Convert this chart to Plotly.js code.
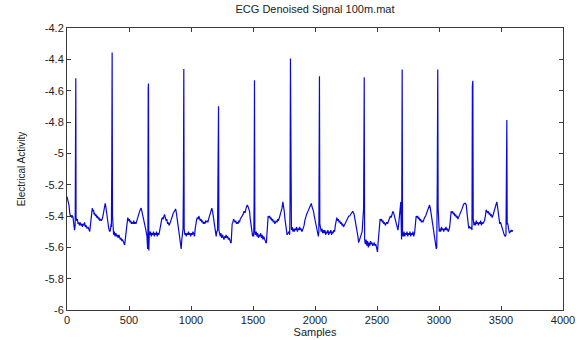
<!DOCTYPE html>
<html>
<head>
<meta charset="utf-8">
<script src="https://cdn.plot.ly/plotly-3.0.1.min.js"></script>
<style>html,body{margin:0;padding:0;background:#fff;}#chart{width:582px;height:340px;}</style>
</head>
<body>
<div id="chart"></div>
<script>
// Sample index of each point
const samples = [
0,5,10,16,22,27,33,38,43,48,53,58,61,66,69,71,
73,78,84,89,95,100,106,112,118,124,130,136,142,148,155,162,170,177,183,190,196,200,204,209,214,218,223,228,234,240,246,252,258,263,270,277,284,290,296,302,308,313,318,324,330,337,344,350,356,358,361,364,367,
370,376,382,388,394,400,406,412,418,424,430,436,442,448,455,461,465,470,478,484,490,496,502,508,514,520,526,532,538,544,550,556,562,568,575,582,590,598,604,610,616,622,628,634,640,645,650,652,655,657,660,664,
668,674,680,686,692,698,704,710,716,722,728,734,740,746,752,758,764,770,776,782,787,793,799,805,811,817,823,829,835,842,850,858,866,872,876,882,888,895,902,910,916,921,926,932,936,939,942,945,
950,956,962,968,974,980,986,992,998,1004,1010,1016,1022,1028,1034,1040,1046,1052,1058,1063,1069,1075,1081,1087,1093,1100,1106,1112,1118,1124,1130,1136,1142,1150,1158,1164,1168,1174,1180,1186,1192,1198,1203,1208,1214,1218,1220,1222,1225,
1230,1236,1242,1248,1254,1260,1266,1272,1278,1284,1290,1296,1302,1308,1314,1320,1324,1328,1332,1338,1343,1349,1355,1361,1367,1373,1379,1385,1391,1397,1405,1412,1420,1428,1436,1444,1453,1460,1466,1472,1478,1486,1492,1497,1502,1506,1509,1512,1515,
1520,1526,1532,1538,1544,1550,1556,1562,1568,1574,1580,1586,1592,1598,1604,1608,1613,1618,1622,1628,1634,1640,1646,1652,1658,1664,1670,1676,1682,1688,1694,1700,1706,1712,1720,1727,1734,1741,1746,1752,1758,1764,1770,1775,1782,1790,1796,1799,1802,1805,
1810,1816,1822,1828,1834,1840,1846,1852,1858,1864,1870,1876,1882,1888,1894,1900,1906,1912,1918,1925,1932,1938,1943,1950,1957,1963,1970,1976,1982,1988,1994,2000,2006,2011,2017,2022,2027,2031,2033,2036,2039,
2044,2050,2056,2062,2068,2074,2080,2086,2092,2098,2104,2110,2116,2122,2128,2134,2140,2146,2152,2158,2164,2170,2176,2182,2188,2194,2200,2206,2212,2218,2224,2230,2236,2242,2248,2256,2264,2272,2280,2288,2296,2304,2310,2316,2322,2330,2338,2346,2352,2360,2370,2380,2388,2392,2395,2397,2400,
2406,2412,2418,2424,2430,2436,2442,2448,2454,2460,2466,2472,2478,2484,2490,2496,2500,2504,2508,2514,2520,2525,2531,2537,2543,2549,2555,2561,2567,2573,2579,2585,2592,2600,2608,2614,2620,2628,2634,2640,2648,2655,2662,2669,2675,2682,2688,2692,2695,2698,2700,2703,2706,
2712,2718,2724,2730,2736,2742,2748,2754,2760,2766,2772,2778,2784,2790,2796,2803,2808,2812,2816,2822,2828,2834,2840,2846,2852,2858,2864,2870,2876,2884,2892,2900,2908,2916,2924,2930,2936,2944,2952,2960,2966,2972,2978,2982,2986,2990,2993,2996,
3002,3008,3014,3020,3026,3032,3038,3044,3050,3056,3062,3068,3074,3080,3086,3092,3098,3104,3110,3116,3122,3128,3134,3140,3146,3152,3158,3164,3172,3180,3188,3196,3204,3213,3220,3226,3232,3240,3248,3256,3262,3266,3269,3273,3276,
3282,3288,3294,3300,3306,3312,3318,3324,3330,3336,3342,3348,3354,3360,3367,3374,3380,3386,3392,3398,3404,3410,3416,3422,3428,3434,3440,3448,3456,3466,3472,3478,3484,3490,3496,3502,3510,3518,3526,3534,3540,3544,3547,3550,3555,3561,3568,3575,3582,3588,3595
];
// Denoised ECG amplitude at each sample
const activity = [
-5.276,-5.29,-5.31,-5.33,-5.38,-5.40,-5.395,-5.41,-5.40,-5.405,-5.44,-5.47,-5.49,-5.46,-4.725,-4.52,
-5.41,-5.43,-5.42,-5.45,-5.44,-5.46,-5.44,-5.46,-5.45,-5.47,-5.45,-5.46,-5.44,-5.47,-5.46,-5.48,-5.47,-5.49,-5.50,-5.45,-5.38,-5.36,-5.35,-5.37,-5.36,-5.39,-5.38,-5.40,-5.39,-5.41,-5.40,-5.42,-5.41,-5.43,-5.42,-5.43,-5.42,-5.40,-5.37,-5.34,-5.32,-5.34,-5.38,-5.41,-5.44,-5.48,-5.50,-5.49,-5.45,-5.47,-5.11,-4.357,-5.40,
-5.50,-5.52,-5.50,-5.53,-5.51,-5.53,-5.52,-5.54,-5.52,-5.53,-5.55,-5.54,-5.56,-5.55,-5.57,-5.58,-5.585,-5.55,-5.47,-5.42,-5.41,-5.43,-5.42,-5.44,-5.43,-5.45,-5.44,-5.45,-5.43,-5.45,-5.44,-5.45,-5.43,-5.42,-5.40,-5.38,-5.36,-5.35,-5.37,-5.40,-5.42,-5.44,-5.46,-5.48,-5.50,-5.53,-5.61,-5.60,-4.586,-4.554,-5.62,-5.50,
-5.52,-5.50,-5.53,-5.51,-5.52,-5.50,-5.53,-5.51,-5.52,-5.50,-5.53,-5.51,-5.52,-5.50,-5.46,-5.43,-5.42,-5.41,-5.42,-5.40,-5.39,-5.41,-5.43,-5.42,-5.45,-5.44,-5.46,-5.45,-5.43,-5.42,-5.40,-5.38,-5.37,-5.36,-5.355,-5.38,-5.42,-5.46,-5.50,-5.55,-5.60,-5.61,-5.55,-5.50,-5.48,-5.20,-4.461,-5.48,
-5.52,-5.51,-5.53,-5.51,-5.52,-5.50,-5.52,-5.51,-5.53,-5.51,-5.52,-5.50,-5.52,-5.53,-5.48,-5.43,-5.42,-5.41,-5.42,-5.40,-5.41,-5.43,-5.42,-5.44,-5.43,-5.45,-5.44,-5.45,-5.43,-5.44,-5.43,-5.44,-5.42,-5.40,-5.38,-5.36,-5.35,-5.37,-5.41,-5.44,-5.47,-5.50,-5.53,-5.50,-5.49,-5.10,-4.834,-4.70,-5.49,
-5.52,-5.53,-5.51,-5.54,-5.52,-5.53,-5.55,-5.53,-5.54,-5.52,-5.54,-5.53,-5.55,-5.54,-5.56,-5.57,-5.57,-5.50,-5.45,-5.44,-5.42,-5.43,-5.44,-5.43,-5.45,-5.44,-5.45,-5.43,-5.44,-5.42,-5.41,-5.40,-5.39,-5.37,-5.38,-5.35,-5.33,-5.34,-5.36,-5.37,-5.42,-5.48,-5.52,-5.53,-5.51,-5.53,-5.30,-4.533,-5.50,
-5.52,-5.50,-5.53,-5.51,-5.54,-5.52,-5.53,-5.51,-5.54,-5.52,-5.55,-5.53,-5.55,-5.56,-5.57,-5.57,-5.50,-5.42,-5.40,-5.41,-5.40,-5.42,-5.41,-5.43,-5.42,-5.44,-5.43,-5.45,-5.44,-5.43,-5.44,-5.42,-5.43,-5.41,-5.40,-5.38,-5.35,-5.31,-5.33,-5.37,-5.42,-5.46,-5.50,-5.52,-5.51,-5.50,-5.52,-5.30,-4.395,-5.47,
-5.49,-5.47,-5.50,-5.48,-5.50,-5.48,-5.49,-5.47,-5.50,-5.48,-5.49,-5.47,-5.49,-5.48,-5.50,-5.49,-5.48,-5.46,-5.43,-5.40,-5.39,-5.38,-5.37,-5.36,-5.35,-5.33,-5.32,-5.34,-5.35,-5.37,-5.40,-5.42,-5.44,-5.47,-5.49,-5.51,-5.53,-5.50,-4.629,-4.508,-5.45,
-5.48,-5.50,-5.48,-5.51,-5.49,-5.51,-5.49,-5.52,-5.50,-5.51,-5.49,-5.52,-5.50,-5.51,-5.49,-5.52,-5.50,-5.51,-5.49,-5.50,-5.46,-5.42,-5.41,-5.43,-5.42,-5.44,-5.43,-5.45,-5.44,-5.46,-5.45,-5.47,-5.46,-5.45,-5.44,-5.42,-5.41,-5.40,-5.40,-5.39,-5.38,-5.37,-5.38,-5.39,-5.42,-5.45,-5.49,-5.53,-5.57,-5.55,-5.52,-5.50,-5.40,-5.35,-4.90,-4.514,-5.55,
-5.58,-5.55,-5.59,-5.56,-5.60,-5.57,-5.59,-5.56,-5.58,-5.57,-5.59,-5.58,-5.57,-5.59,-5.58,-5.60,-5.62,-5.63,-5.58,-5.50,-5.44,-5.42,-5.43,-5.42,-5.44,-5.43,-5.45,-5.44,-5.46,-5.45,-5.44,-5.45,-5.43,-5.41,-5.40,-5.41,-5.39,-5.37,-5.38,-5.40,-5.42,-5.45,-5.48,-5.49,-5.45,-5.38,-5.32,-5.31,-5.45,-5.55,-5.26,-4.465,-5.52,
-5.53,-5.50,-5.53,-5.51,-5.52,-5.50,-5.53,-5.51,-5.52,-5.50,-5.53,-5.51,-5.52,-5.50,-5.53,-5.51,-5.47,-5.42,-5.40,-5.41,-5.40,-5.42,-5.41,-5.43,-5.42,-5.44,-5.43,-5.44,-5.42,-5.41,-5.40,-5.38,-5.36,-5.34,-5.33,-5.35,-5.38,-5.42,-5.46,-5.49,-5.52,-5.57,-5.61,-5.60,-5.20,-4.465,-5.35,-5.45,
-5.50,-5.48,-5.50,-5.47,-5.49,-5.48,-5.50,-5.48,-5.49,-5.47,-5.49,-5.48,-5.50,-5.49,-5.47,-5.42,-5.37,-5.38,-5.37,-5.39,-5.38,-5.40,-5.39,-5.41,-5.40,-5.42,-5.41,-5.40,-5.38,-5.37,-5.35,-5.33,-5.32,-5.32,-5.33,-5.38,-5.45,-5.48,-5.47,-5.48,-5.47,-5.49,-4.571,-4.537,-5.42,
-5.46,-5.44,-5.46,-5.43,-5.45,-5.44,-5.46,-5.44,-5.45,-5.43,-5.46,-5.44,-5.45,-5.44,-5.43,-5.40,-5.36,-5.37,-5.38,-5.37,-5.39,-5.38,-5.40,-5.39,-5.41,-5.40,-5.38,-5.36,-5.33,-5.31,-5.34,-5.38,-5.43,-5.45,-5.44,-5.46,-5.48,-5.50,-5.52,-5.53,-5.52,-5.10,-4.788,-5.45,-5.45,-5.48,-5.51,-5.50,-5.49,-5.50,-5.49
];
const xTickVals = [0,500,1000,1500,2000,2500,3000,3500,4000];
const xTickText = ['0','500','1000','1500','2000','2500','3000','3500','4000'];
const yTickVals = [-6,-5.8,-5.6,-5.4,-5.2,-5,-4.8,-4.6,-4.4,-4.2];
const yTickText = ['-6','-5.8','-5.6','-5.4','-5.2','-5','-4.8','-4.6','-4.4','-4.2'];
const chartTitle = 'ECG Denoised Signal 100m.mat';
const xLabel = 'Samples';
const yLabel = 'Electrical Activity';

const trace = {
  x: samples, y: activity, type: 'scatter', mode: 'lines',
  line: {color: '#0a0ad8', width: 1.2}, hoverinfo: 'skip'
};
const axisCommon = {
  showgrid: false, zeroline: false, showline: true, mirror: 'ticks',
  linecolor: '#3a3a3a', linewidth: 1, ticks: 'inside', ticklen: 4,
  tickcolor: '#3a3a3a', tickwidth: 1,
  tickfont: {family: 'Liberation Sans, Arial, sans-serif', size: 11, color: '#222'}
};
const layout = {
  width: 582, height: 340,
  margin: {l: 67, r: 19, t: 28, b: 30, pad: 0},
  paper_bgcolor: '#fff', plot_bgcolor: '#fff',
  showlegend: false,
  font: {family: 'Liberation Sans, Arial, sans-serif', size: 11, color: '#222'},
  title: {text: chartTitle, x: 0.5, xref: 'paper', y: 0.972, yref: 'container', yanchor: 'middle',
          font: {size: 11, color: '#222'}},
  xaxis: Object.assign({}, axisCommon, {
    range: [0, 4000], tickvals: xTickVals, ticktext: xTickText,
    title: {text: xLabel, standoff: 1, font: {size: 11, color: '#222'}}
  }),
  yaxis: Object.assign({}, axisCommon, {
    range: [-6, -4.2], tickvals: yTickVals, ticktext: yTickText,
    title: {text: yLabel, standoff: 17, font: {size: 10, color: '#222'}}
  })
};
Plotly.newPlot('chart', [trace], layout, {staticPlot: true, displayModeBar: false});
</script>
</body>
</html>
